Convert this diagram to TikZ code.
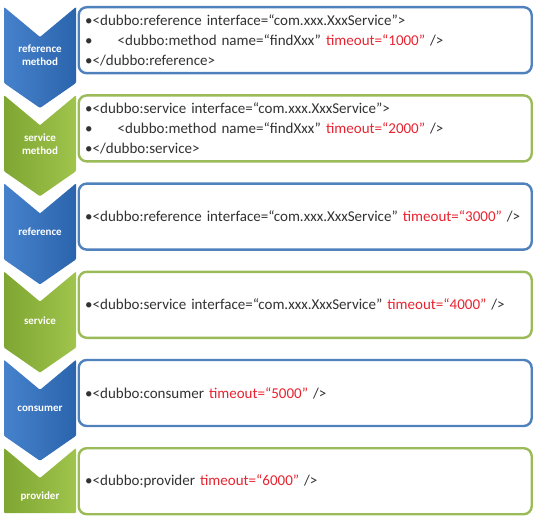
\documentclass[tikz,border=0pt]{standalone}
\usepackage{fontspec}
\setmainfont{Carlito}
\usepackage{xcolor}
\definecolor{dubboblue}{RGB}{79,129,189}
\definecolor{chevblueA}{RGB}{70,130,204}
\definecolor{chevblueB}{RGB}{42,100,172}
\definecolor{dubbogreen}{RGB}{155,187,89}
\definecolor{chevgreenA}{RGB}{126,166,50}
\definecolor{chevgreenB}{RGB}{160,196,76}
\definecolor{dubbotext}{RGB}{50,50,50}
\definecolor{dubbored}{RGB}{232,36,48}
\usepackage{tikz}
\usetikzlibrary{positioning}

\newcommand{\tmo}[1]{\textcolor{dubbored}{timeout=“#1”}}

\begin{document}
\begin{tikzpicture}[x=1pt, y=-1pt,
  cfgbox/.style={line width=2.4pt, rounded corners=8pt, fill=white, anchor=north west,
    minimum width=453pt, minimum height=66pt, text width=440pt, inner xsep=6.5pt,
    align=left, text=dubbotext, font=\fontsize{15}{20}\selectfont},
  chevlabel/.style={text=white, align=center, font=\fontsize{11}{13}\selectfont\bfseries},
  bluechev/.style={left color=chevblueA, right color=chevblueB},
  greenchev/.style={left color=chevgreenA, right color=chevgreenB}
  ]
  \useasboundingbox (0,0) rectangle (537,518);

  % Boxes
  \node[cfgbox, draw=dubboblue] (refmethod) at (77.5,6) {%
    •<dubbo:reference interface=“com.xxx.XxxService”>\\
    •\hspace{25pt}<dubbo:method name=“findXxx” \tmo{1000} />\\
    •</dubbo:reference>};
  \node[cfgbox, draw=dubbogreen] (srvmethod) at (77.5,94.2) {%
    •<dubbo:service interface=“com.xxx.XxxService”>\\
    •\hspace{25pt}<dubbo:method name=“findXxx” \tmo{2000} />\\
    •</dubbo:service>};
  \node[cfgbox, draw=dubboblue] (reference) at (77.5,182.4) {%
    •<dubbo:reference interface=“com.xxx.XxxService” \tmo{3000} />};
  \node[cfgbox, draw=dubbogreen] (service) at (77.5,270.6) {%
    •<dubbo:service interface=“com.xxx.XxxService” \tmo{4000} />};
  \node[cfgbox, draw=dubboblue] (consumer) at (77.5,358.8) {%
    •<dubbo:consumer \tmo{5000} />};
  \node[cfgbox, draw=dubbogreen] (provider) at (77.5,447) {%
    •<dubbo:provider \tmo{6000} />};

  % Chevrons
  \foreach \t/\s in {7/bluechev, 95.2/greenchev, 183.4/bluechev, 271.6/greenchev, 359.8/bluechev}
    \path[\s, rounded corners=1pt]
      (4,\t) -- (40,\t+30) -- (76,\t) -- (76,\t+76) -- (40,\t+101) -- (4,\t+76) -- cycle;
  \path[greenchev, rounded corners=1pt]
    (4,448) -- (40,478) -- (76,448) -- (76,513) -- (4,513) -- cycle;

  % Labels
  \node[chevlabel] (lblrefmethod) at (40,55.5) {reference\\method};
  \node[chevlabel] (lblsrvmethod) at (40,144.5) {service\\method};
  \node[chevlabel] (lblreference) at (40,232) {reference};
  \node[chevlabel] (lblservice) at (40,320.5) {service};
  \node[chevlabel] (lblconsumer) at (40,408.5) {consumer};
  \node[chevlabel] (lblprovider) at (40,496.5) {provider};
\end{tikzpicture}
\end{document}
